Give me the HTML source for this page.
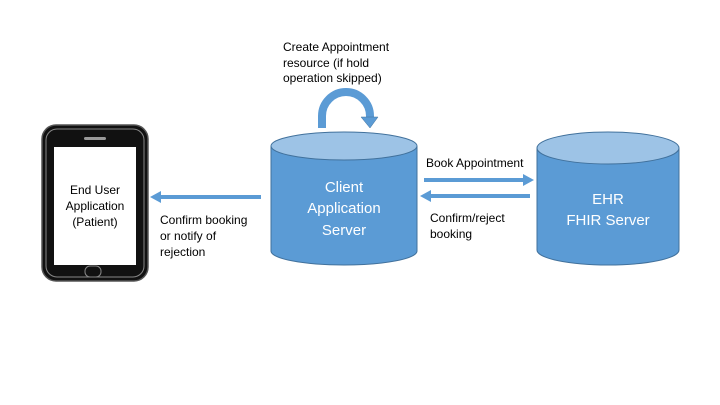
<!DOCTYPE html>
<html><head><meta charset="utf-8"><style>
body{margin:0;background:#fff;}
svg{display:block;font-family:"Liberation Sans",sans-serif;}
</style></head><body>
<svg width="720" height="405" viewBox="0 0 720 405">
<!-- phone -->
<rect x="42" y="125" width="106" height="156" rx="14" fill="#111" stroke="#555" stroke-width="1.5"/>
<rect x="46" y="129" width="98" height="148" rx="11" fill="none" stroke="#888" stroke-width="1"/>
<rect x="54" y="147" width="82" height="118" fill="#fff"/>
<rect x="84" y="137" width="22" height="3" rx="1.5" fill="#999"/>
<rect x="85" y="266" width="16" height="11" rx="5" fill="none" stroke="#888" stroke-width="1"/>
<text font-size="12" fill="#000" text-anchor="middle"><tspan x="95" y="194">End User</tspan><tspan x="95" y="210">Application</tspan><tspan x="95" y="226">(Patient)</tspan></text>
<!-- cylinder 1 -->
<path d="M271 146 L271 251 A73 14 0 0 0 417 251 L417 146" fill="#5b9bd5" stroke="#41719c" stroke-width="1"/>
<ellipse cx="344" cy="146" rx="73" ry="14" fill="#9dc3e6" stroke="#41719c" stroke-width="1"/>
<text font-size="15" fill="#fff" text-anchor="middle"><tspan x="344" y="192">Client</tspan><tspan x="344" y="213">Application</tspan><tspan x="344" y="235">Server</tspan></text>
<!-- cylinder 2 -->
<path d="M537 148 L537 250 A71 15 0 0 0 679 250 L679 148" fill="#5b9bd5" stroke="#41719c" stroke-width="1"/>
<ellipse cx="608" cy="148" rx="71" ry="16" fill="#9dc3e6" stroke="#41719c" stroke-width="1"/>
<text font-size="15" fill="#fff" text-anchor="middle"><tspan x="608" y="204">EHR</tspan><tspan x="608" y="225">FHIR Server</tspan></text>
<!-- curved arrow -->
<path d="M322 128 L322 116 A24 24 0 0 1 370 116 L370 118" fill="none" stroke="#5b9bd5" stroke-width="8"/>
<path d="M361 117 L378 117 L370 128 Z" fill="#5b9bd5" stroke="#41719c" stroke-width="0.5"/>
<text font-size="12" fill="#000"><tspan x="283" y="51">Create Appointment</tspan><tspan x="283" y="67">resource (if hold</tspan><tspan x="283" y="82">operation skipped)</tspan></text>
<!-- arrows -->
<line x1="424" y1="180" x2="524" y2="180" stroke="#5b9bd5" stroke-width="4"/>
<path d="M523 174 L534 180 L523 186 Z" fill="#5b9bd5"/>
<line x1="530" y1="196" x2="430" y2="196" stroke="#5b9bd5" stroke-width="4"/>
<path d="M431 190 L420 196 L431 202 Z" fill="#5b9bd5"/>
<line x1="261" y1="197" x2="160" y2="197" stroke="#5b9bd5" stroke-width="4"/>
<path d="M161 191 L150 197 L161 203 Z" fill="#5b9bd5"/>
<text font-size="12" fill="#000"><tspan x="426" y="167">Book Appointment</tspan></text>
<text font-size="12" fill="#000"><tspan x="430" y="222">Confirm/reject</tspan><tspan x="430" y="238">booking</tspan></text>
<text font-size="12" fill="#000"><tspan x="160" y="224">Confirm booking</tspan><tspan x="160" y="240">or notify of</tspan><tspan x="160" y="256">rejection</tspan></text>
</svg>
</body></html>
